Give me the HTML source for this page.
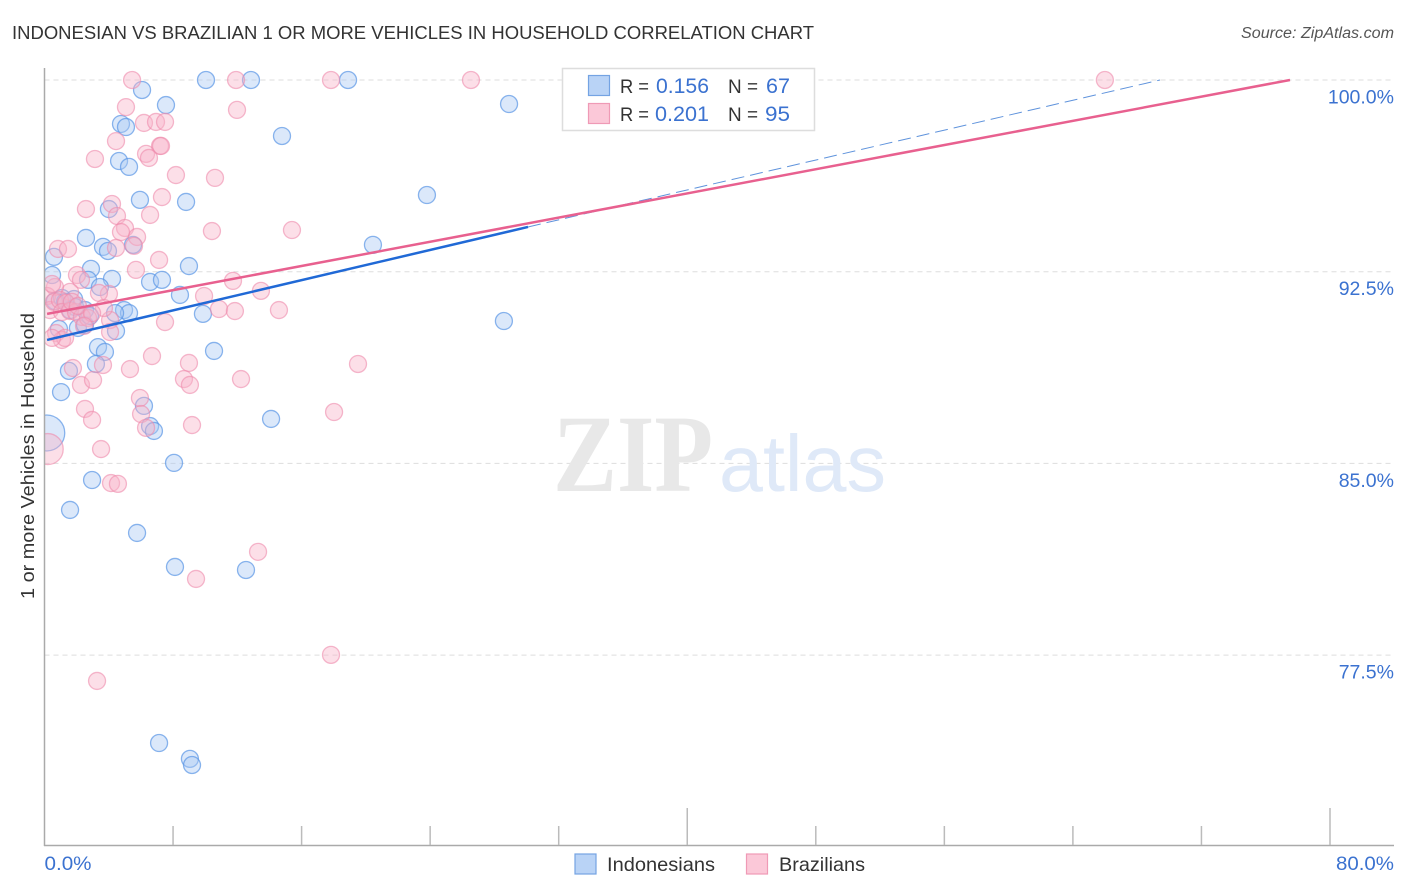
<!DOCTYPE html>
<html>
<head>
<meta charset="utf-8">
<title>Indonesian vs Brazilian 1 or more Vehicles in Household Correlation Chart</title>
<style>
html,body{margin:0;padding:0;background:#fff;width:1406px;height:892px;overflow:hidden}
svg{display:block}
text{font-family:"Liberation Sans",sans-serif}
</style>
</head>
<body>
<svg id="chart" width="1406" height="892" viewBox="0 0 1406 892" xmlns="http://www.w3.org/2000/svg">
<text x="12" y="39" font-size="18.5" fill="#333" textLength="802" lengthAdjust="spacingAndGlyphs">INDONESIAN VS BRAZILIAN 1 OR MORE VEHICLES IN HOUSEHOLD CORRELATION CHART</text>
<text x="1394" y="38" font-size="15.5" font-style="italic" fill="#555" text-anchor="end" textLength="153" lengthAdjust="spacingAndGlyphs">Source: ZipAtlas.com</text>
<g id="grid"></g>
<text x="553" y="491" font-size="110" font-weight="bold" fill="#e8e8e8" style="font-family:'Liberation Serif',serif" textLength="160" lengthAdjust="spacingAndGlyphs">ZIP</text>
<text x="719" y="491" font-size="80" fill="#dfe9f8" style="font-family:'Liberation Sans',sans-serif" textLength="167" lengthAdjust="spacingAndGlyphs">atlas</text>
<g id="points"></g>
<rect x="0" y="60" width="44" height="790" fill="#fff"/>
<g id="trends"></g>
<g id="axes"></g>
<text transform="translate(34,456) rotate(-90)" font-size="18.5" fill="#333" text-anchor="middle" textLength="286" lengthAdjust="spacingAndGlyphs">1 or more Vehicles in Household</text>

<g>
<rect x="562.5" y="68.5" width="252" height="62" fill="#fff" stroke="#ddd" stroke-width="1.5"/>
<rect x="588.5" y="75.5" width="21" height="20" fill="#b9d3f6" stroke="#74a3e3" stroke-width="1.2"/>
<rect x="588.5" y="103.5" width="21" height="20" fill="#fbc8d8" stroke="#ef9ab6" stroke-width="1.2"/>
<text x="620" y="93" font-size="19.5" fill="#333" textLength="29" lengthAdjust="spacingAndGlyphs">R =</text>
<text x="656" y="93" font-size="21" fill="#3b72d0" textLength="53" lengthAdjust="spacingAndGlyphs">0.156</text>
<text x="728" y="93" font-size="19.5" fill="#333" textLength="30" lengthAdjust="spacingAndGlyphs">N =</text>
<text x="766" y="93" font-size="21" fill="#3b72d0" textLength="24" lengthAdjust="spacingAndGlyphs">67</text>
<text x="620" y="121" font-size="19.5" fill="#333" textLength="29" lengthAdjust="spacingAndGlyphs">R =</text>
<text x="655" y="121" font-size="21" fill="#3b72d0" textLength="54" lengthAdjust="spacingAndGlyphs">0.201</text>
<text x="728" y="121" font-size="19.5" fill="#333" textLength="30" lengthAdjust="spacingAndGlyphs">N =</text>
<text x="765" y="121" font-size="21" fill="#3b72d0" textLength="25" lengthAdjust="spacingAndGlyphs">95</text>
</g>

<g>
<rect x="575" y="854" width="21" height="20" fill="#b9d3f6" stroke="#74a3e3" stroke-width="1.2"/>
<text x="607" y="871" font-size="19.5" fill="#333" textLength="108" lengthAdjust="spacingAndGlyphs">Indonesians</text>
<rect x="746.5" y="854" width="21" height="20" fill="#fbc8d8" stroke="#ef9ab6" stroke-width="1.2"/>
<text x="779" y="871" font-size="19.5" fill="#333" textLength="86" lengthAdjust="spacingAndGlyphs">Brazilians</text>
</g>
</svg>

<script>
const indonesianX = [10.05,12.85,18.89,6.07,7.56,28.91,4.76,5.07,14.78,4.64,5.26,23.80,5.94,8.81,4.01,2.58,20.44,3.64,3.95,5.51,0.59,0.47,8.99,2.89,4.20,2.71,6.57,7.31,3.45,8.43,28.59,9.86,4.95,5.26,4.39,4.45,10.55,3.33,3.76,3.20,1.52,1.03,14.10,6.19,6.57,6.81,0.14,8.06,2.96,1.59,5.76,8.12,12.54,7.13,9.05,9.18,0.65,1.84,1.90,0.90,2.08,2.52,1.09,2.52,2.83,1.59,1.28];
const indonesianY = [100,100,100,99.61,99.02,99.06,98.28,98.16,97.81,96.83,96.60,95.50,95.31,95.23,94.95,93.82,93.55,93.47,93.31,93.55,93.08,92.37,92.72,92.61,92.22,92.18,92.10,92.18,91.90,91.59,90.57,90.85,91.00,90.88,90.88,90.18,89.40,89.55,89.36,88.89,88.62,87.79,86.74,87.25,86.46,86.27,86.19,85.02,84.35,83.18,82.28,80.95,80.83,74.06,73.44,73.20,91.35,91.43,91.12,90.26,90.30,90.42,91.47,91.00,90.77,91.00,91.32];
const brazilianX = [5.45,11.92,17.83,26.54,65.99,5.07,11.98,6.19,6.94,7.50,4.45,7.19,7.25,6.32,6.50,3.14,8.18,10.61,7.31,4.20,2.58,4.51,6.57,5.01,4.76,10.42,15.40,5.76,4.45,5.57,0.84,1.46,7.13,5.69,2.02,2.27,11.73,13.47,9.93,4.01,3.39,1.59,0.65,14.59,10.86,11.85,7.50,6.69,8.99,12.23,8.68,9.05,5.32,1.77,3.64,2.27,3.02,5.94,6.01,2.52,2.96,9.18,6.32,3.52,0.20,4.14,4.57,18.02,19.51,13.29,9.43,17.83,3.27,0.16,0.47,0.34,0.59,0.96,1.34,1.09,1.59,1.96,2.33,2.71,1.71,2.08,4.08,3.70,4.08,0.72,1.09,1.28,0.47,2.96,2.46];
const brazilianY = [100,100,100,100,100,98.94,98.83,98.32,98.36,98.36,97.61,97.42,97.42,97.11,96.95,96.91,96.28,96.17,95.42,95.15,94.95,94.68,94.72,94.21,94.05,94.09,94.13,93.86,93.43,93.51,93.39,93.39,92.96,92.57,92.37,92.18,92.14,91.75,91.55,91.63,91.67,91.71,91.90,91.00,91.04,90.96,90.53,89.20,88.93,88.30,88.30,88.07,88.69,88.73,88.85,88.07,88.26,87.56,86.93,87.13,86.70,86.50,86.39,85.56,85.56,84.23,84.20,87.01,88.89,81.54,80.48,77.51,76.49,91.55,92.02,91.00,91.32,91.39,91.28,90.92,90.96,90.92,90.73,90.69,91.32,91.16,90.61,91.08,90.14,90.10,89.83,89.91,89.91,90.88,90.38];
const indonesianLargeIndex = 46;
const brazilianLargeIndex = 64;
const indonesianTrendX = [0.16,30.09];
const indonesianTrendY = [89.83,94.25];
const indonesianProjectionX = [30.09,69.42];
const indonesianProjectionY = [94.25,100];
const brazilianTrendX = [0.16,77.51];
const brazilianTrendY = [90.85,100];
const yGridValues = [100,92.5,85,77.5];
const yTickLabels = ["100.0%","92.5%","85.0%","77.5%"];
const xTickValues = [8,16,24,32,40,48,56,64,72,80];
const xMajorTicks = [40,80];
const xEdgeValues = [0,80];
const xEdgeLabels = ["0.0%","80.0%"];

const NS = 'http://www.w3.org/2000/svg';
const xScale = v => 44.5 + v * (1285.5 / 80);
const yScale = v => 80 + (100 - v) * 25.56;
function make(tag, parent, attrs) {
  const el = document.createElementNS(NS, tag);
  for (const k in attrs) el.setAttribute(k, attrs[k]);
  parent.appendChild(el);
  return el;
}
const gridG = document.getElementById('grid');
const axesG = document.getElementById('axes');
const pointsG = document.getElementById('points');
const trendsG = document.getElementById('trends');

yGridValues.forEach((v, i) => {
  const line = make('line', gridG, {x1: 44.5, x2: 1394, y1: yScale(v), y2: yScale(v), stroke: '#ddd', 'stroke-width': 1, 'stroke-dasharray': '5 4'});
  
  
  const label = make('text', axesG, {x: 1394, y: yScale(v) + 23.5, 'font-size': 19.5, fill: '#3b72d0', 'text-anchor': 'end'});
  
  
  label.textContent = yTickLabels[i];
});

const yAxis = make('line', axesG, {x1: 44.5, x2: 44.5, y1: 68, y2: 846, stroke: '#aaa', 'stroke-width': 1.5});


const xAxis = make('line', axesG, {x1: 44, x2: 1394, y1: 845.5, y2: 845.5, stroke: '#aaa', 'stroke-width': 1.5});



xTickValues.forEach(v => {
  const top = xMajorTicks.includes(v) ? 808 : 826;
  const tick = make('line', axesG, {x1: xScale(v), x2: xScale(v), y1: top, y2: 845, stroke: '#bbb', 'stroke-width': 1.5});
  
  
});

xEdgeValues.forEach((v, i) => {
  const label = make('text', axesG, {x: i === 0 ? xScale(v) : 1394, y: 870, 'font-size': 19.5, fill: '#3b72d0', 'text-anchor': i === 0 ? 'start' : 'end', textLength: i === 0 ? 47 : 58, lengthAdjust: 'spacingAndGlyphs'});
  
  
  label.textContent = xEdgeLabels[i];
});

indonesianX.forEach((v, i) => {
  const c = make('circle', pointsG, {cx: xScale(v), cy: yScale(indonesianY[i]), r: i === indonesianLargeIndex ? 18 : 8.5, fill: '#a9c9f2', 'fill-opacity': 0.42, stroke: '#5a96e6', 'stroke-opacity': 0.7, 'stroke-width': 1.3});
  
  
});
brazilianX.forEach((v, i) => {
  const c = make('circle', pointsG, {cx: xScale(v), cy: yScale(brazilianY[i]), r: i === brazilianLargeIndex ? 15.5 : 8.5, fill: '#f7b3c9', 'fill-opacity': 0.42, stroke: '#ee8aab', 'stroke-opacity': 0.6, 'stroke-width': 1.3});
  
  
});

const projection = make('line', trendsG, {x1: xScale(indonesianProjectionX[0]), y1: yScale(indonesianProjectionY[0]), x2: xScale(indonesianProjectionX[1]), y2: yScale(indonesianProjectionY[1]), stroke: '#5f93dc', 'stroke-width': 1, 'stroke-dasharray': '13 6'});


const pinkTrend = make('line', trendsG, {x1: xScale(brazilianTrendX[0]), y1: yScale(brazilianTrendY[0]), x2: xScale(brazilianTrendX[1]), y2: yScale(brazilianTrendY[1]), stroke: '#e8608f', 'stroke-width': 2.5});


const blueTrend = make('line', trendsG, {x1: xScale(indonesianTrendX[0]), y1: yScale(indonesianTrendY[0]), x2: xScale(indonesianTrendX[1]), y2: yScale(indonesianTrendY[1]), stroke: '#2069d6', 'stroke-width': 2.5});


</script>
</body>
</html>
